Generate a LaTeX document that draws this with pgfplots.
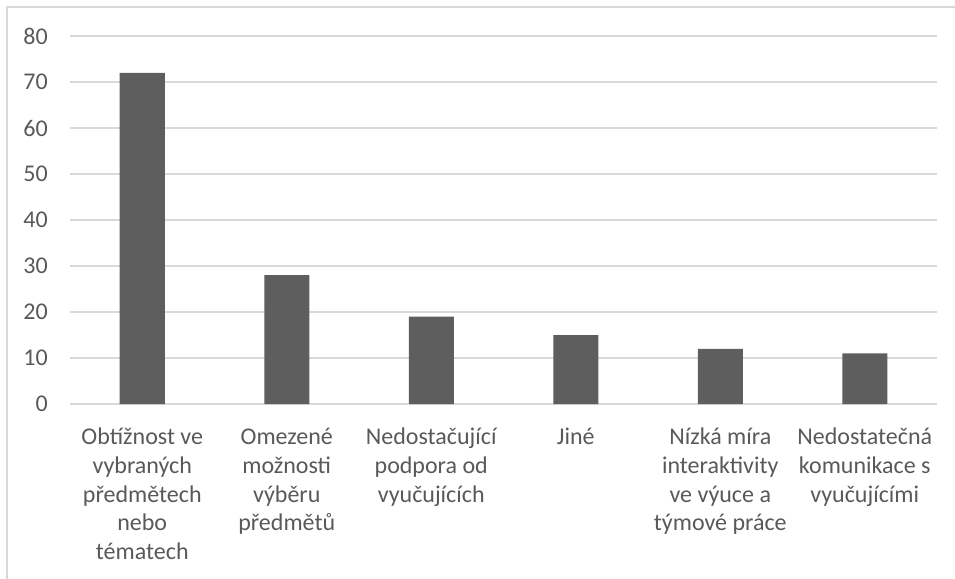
\documentclass[border=0pt]{standalone}
\usepackage{pgfplots}
\pgfplotsset{compat=1.18}
\usepackage{fontspec}
\setmainfont{Carlito}
\definecolor{bargray}{HTML}{5E5E5E}
\definecolor{gridgray}{HTML}{D9D9D9}
\definecolor{txtgray}{HTML}{595959}
\begin{document}
\begin{tikzpicture}
\useasboundingbox (-52.5pt,-130.5pt) rectangle (663.75pt,303pt);
\draw[gridgray, line width=0.9pt] (-47.25pt,-140pt) -- (-47.25pt,297.75pt) -- (670pt,297.75pt);
\begin{axis}[
  at={(0pt,0pt)}, anchor=south west,
  scale only axis,
  width=650.25pt, height=276pt,
  xmin=-0.5, xmax=5.5, ymin=0, ymax=80,
  ytick={0,10,...,80},
  xtick={0,1,2,3,4,5},
  xticklabels={{Obtížnost ve\\vybraných\\předmětech\\nebo\\tématech},
               {Omezené\\možnosti\\výběru\\předmětů},
               {Nedostačující\\podpora od\\vyučujících},
               {Jiné},
               {Nízká míra\\interaktivity\\ve výuce a\\týmové práce},
               {Nedostatečná\\komunikace s\\vyučujícími}},
  axis line style={draw=none},
  axis x line*=bottom,
  major tick length=0pt,
  ymajorgrids, grid style={gridgray, line width=0.9pt},
  /pgf/number format/assume math mode=true,
  tick label style={font=\fontsize{18}{21.5}\selectfont, text=txtgray},
  xticklabel style={align=center, anchor=north, inner sep=0pt, yshift=-18pt},
  yticklabel style={anchor=east, inner sep=0pt, xshift=-16.5pt},
  clip=false,
]
\draw[gridgray, line width=0.9pt] (axis cs:-0.5,0) -- (axis cs:5.5,0);
\addplot[ybar, bar width=33.75pt, fill=bargray, draw=none] coordinates {
  (0,72) (1,28) (2,19) (3,15) (4,12) (5,11)
};
\end{axis}
\end{tikzpicture}
\end{document}
